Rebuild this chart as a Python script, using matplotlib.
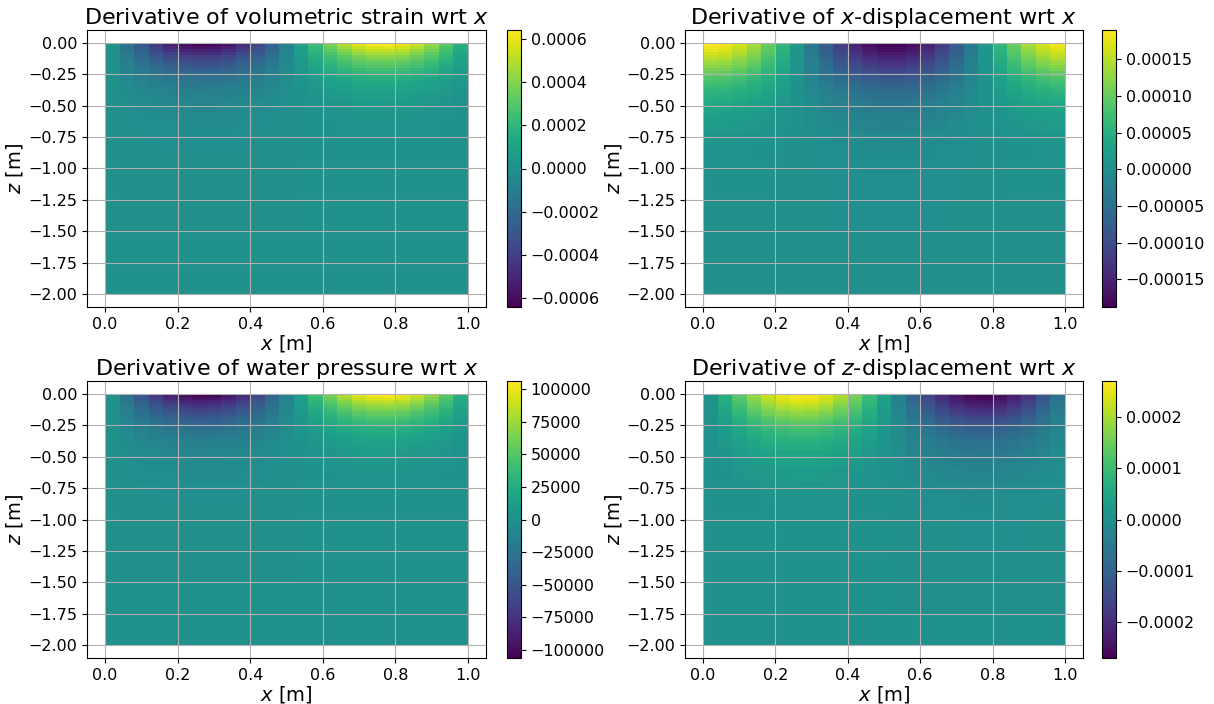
import matplotlib
matplotlib.use("Agg")
import matplotlib.pyplot as plt
import numpy as np

# x-cells (25 columns from 0 to 1 m), values taken at the left node of each cell
x_edges = np.linspace(0.0, 1.0, 26)

# depth nodes (top of each row) and bottom edge
z_nodes = [0.0, -0.025, -0.05, -0.075, -0.1, -0.125, -0.15, -0.175, -0.2, -0.225,
           -0.25, -0.275, -0.3, -0.325, -0.35, -0.375, -0.4, -0.45, -0.5, -0.55,
           -0.6, -0.7, -0.8, -0.9, -1.0, -1.25, -1.5, -1.75]
z_bottom = -2.0

# surface values along x (top row)
strain_top = [0.0, -0.00016, -0.00031, -0.00044, -0.00054, -0.00061, -0.00064, -0.00063,
              -0.00058, -0.00049, -0.00038, -0.00024, -0.00008, 0.00008, 0.00024, 0.00038,
              0.00049, 0.00058, 0.00063, 0.00064, 0.00061, 0.00054, 0.00044, 0.00031, 0.00016]
ux_top = [0.00019, 0.000184, 0.000166, 0.000139, 0.000102, 0.000059, 0.000012, -0.000036,
          -0.000081, -0.000121, -0.000154, -0.000177, -0.000188, -0.000188, -0.000177,
          -0.000154, -0.000121, -0.000081, -0.000036, 0.000012, 0.000059, 0.000102,
          0.000139, 0.000166, 0.000184]
pressure_top = [0, -26000, -51000, -72000, -89000, -101000, -106000, -104000, -96000,
                -82000, -62000, -39000, -13000, 13000, 39000, 62000, 82000, 96000, 104000,
                106000, 101000, 89000, 72000, 51000, 26000]
uz_top = [0.0, 0.000067, 0.00013, 0.000185, 0.000228, 0.000257, 0.00027, 0.000265,
          0.000244, 0.000208, 0.000159, 0.000099, 0.000034, -0.000034, -0.000099,
          -0.000159, -0.000208, -0.000244, -0.000265, -0.00027, -0.000257, -0.000228,
          -0.000185, -0.00013, -0.000067]

# how the surface values fade with depth (fraction of the top value at each z node)
strain_depth = [1.0, 0.91, 0.82, 0.74, 0.66, 0.59, 0.52, 0.46, 0.40, 0.35, 0.30, 0.26,
                0.22, 0.19, 0.165, 0.14, 0.12, 0.09, 0.065, 0.05, 0.035, 0.02, 0.012,
                0.007, 0.004, 0.001, 0.0, 0.0]
ux_depth = [1.0, 0.96, 0.92, 0.87, 0.82, 0.76, 0.71, 0.65, 0.60, 0.55, 0.50, 0.45, 0.41,
            0.37, 0.33, 0.30, 0.27, 0.21, 0.17, 0.13, 0.10, 0.06, 0.035, 0.02, 0.012, 0.004,
            0.001, 0.0]
uz_depth = [1.0, 0.95, 0.90, 0.84, 0.78, 0.72, 0.66, 0.60, 0.54, 0.49, 0.44, 0.40, 0.36,
            0.32, 0.29, 0.26, 0.24, 0.19, 0.15, 0.12, 0.09, 0.055, 0.032, 0.018, 0.01, 0.003,
            0.001, 0.0]

z_edges = np.array(z_nodes + [z_bottom])

panels = [
    ("Derivative of volumetric strain wrt $x$", strain_top, strain_depth, None),
    ("Derivative of $x$-displacement wrt $x$", ux_top, ux_depth, None),
    ("Derivative of water pressure wrt $x$", pressure_top, strain_depth,
     [-100000, -75000, -50000, -25000, 0, 25000, 50000, 75000, 100000]),
    ("Derivative of $z$-displacement wrt $x$", uz_top, uz_depth, None),
]

W, H = 1214, 704
fig = plt.figure(figsize=(W / 100, H / 100), dpi=100)

# axes boxes in pixels: (left, top, right, bottom)
boxes = [(87, 30, 486, 307), (685, 30, 1083, 307), (87, 381, 486, 658), (685, 381, 1083, 658)]
cbar_left = [507, 1102]

for i, (title, top, depth, cticks) in enumerate(panels):
    l, t, r, b = boxes[i]
    ax = fig.add_axes([l / W, 1 - b / H, (r - l) / W, (b - t) / H])
    cl = cbar_left[i % 2]
    cax = fig.add_axes([cl / W, 1 - b / H, 14 / W, (b - t) / H])

    field = np.outer(depth, top)
    mesh = ax.pcolormesh(x_edges, z_edges, field, cmap="viridis", shading="flat")
    ax.set_xlim(-0.05, 1.05)
    ax.set_ylim(-2.1, 0.1)
    ax.set_xticks([0.0, 0.2, 0.4, 0.6, 0.8, 1.0])
    ax.set_yticks([0.0, -0.25, -0.5, -0.75, -1.0, -1.25, -1.5, -1.75, -2.0])
    ax.grid(True, color="#b0b0b0", linewidth=0.8)
    ax.set_title(title, fontsize=16, pad=4)
    ax.set_xlabel("$x$ [m]", fontsize=14, labelpad=1)
    ax.set_ylabel("$z$ [m]", fontsize=14, labelpad=2)
    ax.tick_params(labelsize=11.5)

    cb = fig.colorbar(mesh, cax=cax)
    if cticks is not None:
        cb.set_ticks(cticks)
    cb.ax.tick_params(labelsize=11.5)

fig.savefig("out.png", dpi=100)
